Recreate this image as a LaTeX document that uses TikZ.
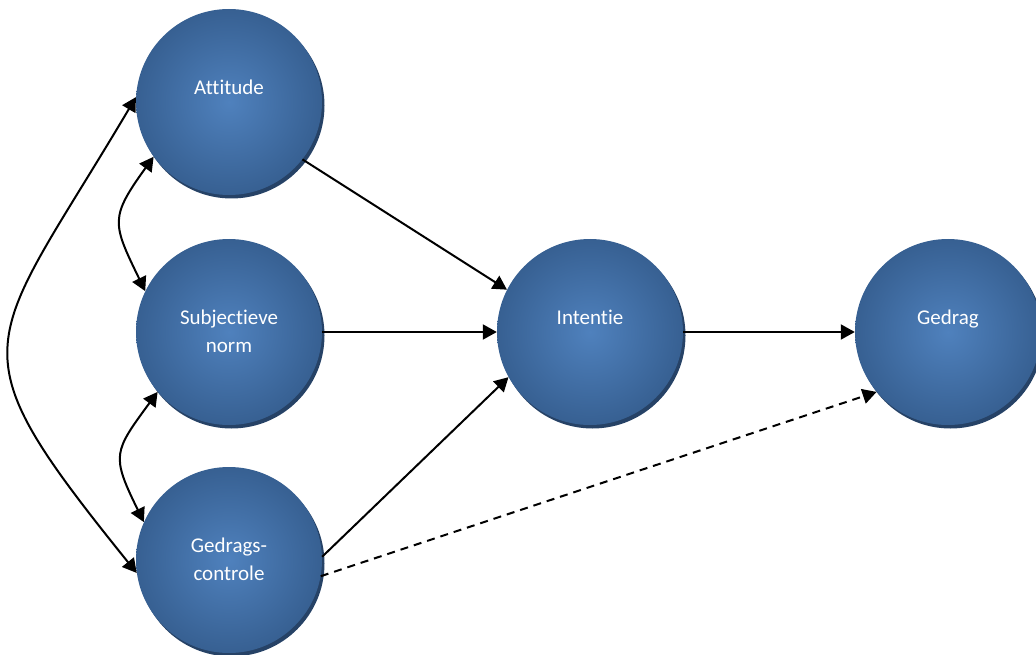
\documentclass[tikz,border=0pt]{standalone}
\usepackage{fontspec}
\setmainfont[RawFeature={-liga;-clig}]{Carlito}
\usetikzlibrary{arrows.meta,shadows}
\definecolor{ballin}{RGB}{79,129,189}
\definecolor{ballout}{RGB}{55,96,146}
\definecolor{ballshade}{RGB}{38,66,102}
% struts that keep the two text lines of every ball at the same height
\newcommand{\topstrut}{\rule{0pt}{16pt}}
\newcommand{\botstrut}{\rule[-3pt]{0pt}{3pt}}
\begin{document}
\begin{tikzpicture}[x=1pt,y=-1pt,
  ball/.style={circle, minimum size=186pt, inner sep=0pt,
    inner color=ballin, outer color=ballout,
    drop shadow={shadow xshift=2.5pt, shadow yshift=-3.5pt, fill=ballshade, opacity=1},
    text=white, font=\fontsize{21}{28}\selectfont, align=center},
  link/.style={line width=2pt, -{Triangle[length=14pt,width=15pt]}},
  both/.style={line width=2pt, {Triangle[length=14pt,width=15pt]}-{Triangle[length=14pt,width=15pt]}},
  weak/.style={link, dash pattern=on 8pt off 6pt},
]
\useasboundingbox (0,0) rectangle (1036,655);
\clip (0,0) rectangle (1036,655);

% determinants, intention and behaviour
\node[ball] (att) at (229,102) {\topstrut Attitude\\\mbox{}\botstrut};
\node[ball] (sub) at (229,332) {\topstrut Subjectieve\\norm\botstrut};
\node[ball] (ged) at (229,560) {\topstrut Gedrags-\\controle\botstrut};
\node[ball] (int) at (590,332) {\topstrut Intentie\\\mbox{}\botstrut};
\node[ball] (gdr) at (948,332) {\topstrut Gedrag\\\mbox{}\botstrut};

% direct effects
\draw[link] (att.-38) -- (int.153);
\draw[link] (sub.east) -- (int.west);
\draw[link] (ged.2.5) -- (int.-151);
\draw[link] (int.east) -- (gdr.west);
\draw[weak] (ged.-10) -- (gdr.-140.6);

% correlations between the determinants
\draw[both] (att.177) .. controls +(-151,255) and +(-187,-232) .. (ged.188);
\draw[both] (att.216) .. controls +(-44,61) and +(-33,-68) .. (sub.154);
\draw[both] (sub.220) .. controls +(-44,60) and +(-33,-67) .. (ged.156);
\end{tikzpicture}
\end{document}
